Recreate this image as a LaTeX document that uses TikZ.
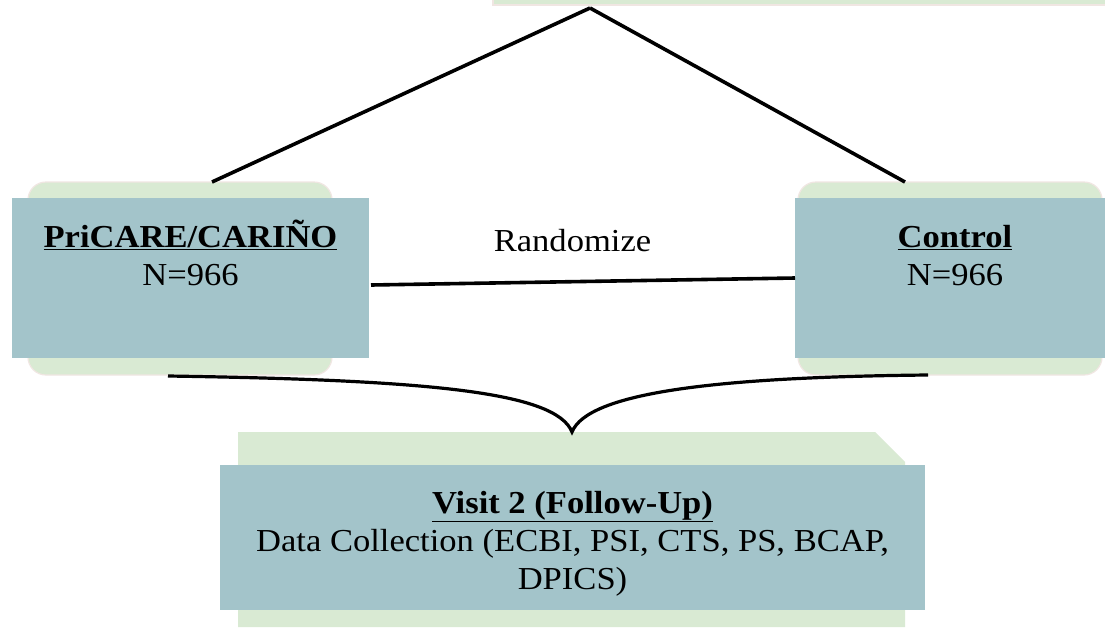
\documentclass[tikz,border=0pt]{standalone}
\usepackage{fontspec}
\setmainfont{Liberation Serif}[FakeStretch=1.08]
\usetikzlibrary{positioning}
\definecolor{armblue}{HTML}{A3C4CA}
\definecolor{backgreen}{HTML}{D9EAD3}
\definecolor{rimpink}{HTML}{F0E6E2}
\newcommand{\armtitle}[1]{\underline{\textbf{#1}}}

\begin{document}
\begin{tikzpicture}[x=1pt, y=-1pt, line width=3.6pt, font=\fontsize{32}{38}\selectfont,
	back_box/.style={draw=rimpink, line width=1.2pt, fill=backgreen, rounded corners=18pt, inner sep=0pt, outer sep=0pt, minimum width=304pt, minimum height=193pt},
	arm_box/.style={fill=armblue, inner sep=0pt, outer sep=0pt, minimum height=160pt},
	box_text/.style={anchor=base, inner sep=0pt}]
	\useasboundingbox (0,0) rectangle (1105,627);
	\fill[white] (0,0) rectangle (1105,627);
	\node[back_box, rounded corners=0pt, anchor=south west, minimum width=700pt, minimum height=30pt] (enroll) at (493,5) {};
	\coordinate (apex) at (590,8);
	\node[back_box] (pricare_back) at (180,278.5) {};
	\node[back_box] (control_back) at (950,278.5) {};
	\fill[backgreen] (238,432) -- (875,432) -- (905,462) -- (905,627) -- (238,627) -- cycle;
	\node[arm_box, minimum width=357pt] (pricare) at (190.5,278) {};
	\node[arm_box, minimum width=320pt] (control) at (955,278) {};
	\node[arm_box, minimum width=705pt, minimum height=145pt] (visit) at (572.5,537.5) {};
	\node[box_text] (pricare_title) at ([yshift=-49pt]pricare.north) {\armtitle{PriCARE/CARIÑO}};
	\node[box_text] (pricare_n) at ([yshift=-38pt]pricare_title.base) {N=966};
	\node[box_text] (control_title) at ([yshift=-49pt]control.north) {\armtitle{Control}};
	\node[box_text] (control_n) at ([yshift=-38pt]control_title.base) {N=966};
	\node[box_text] (visit_title) at ([yshift=-48pt]visit.north) {\armtitle{Visit 2 (Follow-Up)}};
	\node[box_text] (visit_data) at ([yshift=-38pt]visit_title.base) {Data Collection (ECBI, PSI, CTS, PS, BCAP,};
	\node[box_text] (visit_list) at ([yshift=-38pt]visit_data.base) {DPICS)};
	\node[box_text] (randomize) at (572.5,251) {Randomize};
	\draw (apex) -- ([xshift=32pt]pricare_back.north);
	\draw (apex) -- ([xshift=-45pt]control_back.north);
	\draw ([xshift=2pt, yshift=-7pt]pricare.east) -- (control.west);
	\coordinate (brace_left) at (168,376);
	\coordinate (brace_tip) at (572,432);
	\coordinate (brace_right) at (928,375);
	\draw[line width=3.2pt] (brace_left) .. controls (430,380) and (556,392) .. (brace_tip)
		.. controls (588,392) and (720,377) .. (brace_right);
\end{tikzpicture}
\end{document}
